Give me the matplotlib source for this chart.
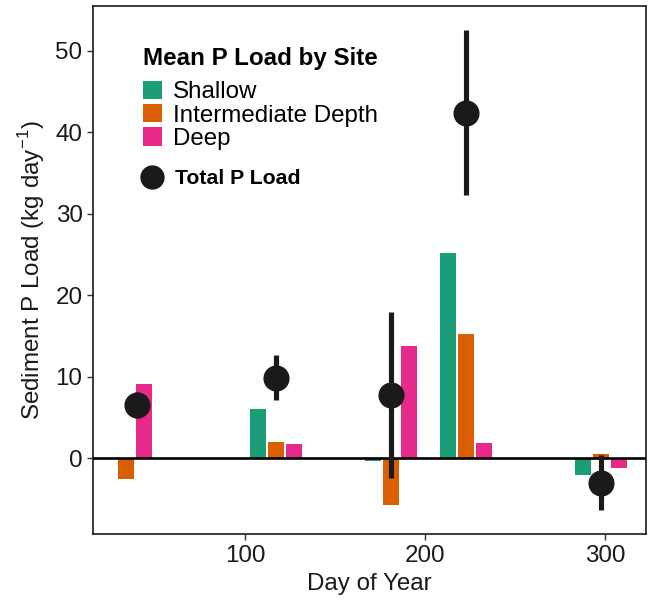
import matplotlib
matplotlib.use("Agg")
import matplotlib.pyplot as plt
from matplotlib.patches import Patch
from matplotlib.lines import Line2D
import numpy as np

plt.rcParams["font.family"] = ["Liberation Sans", "DejaVu Sans"]
plt.rcParams["mathtext.fontset"] = "custom"
plt.rcParams["mathtext.rm"] = "Liberation Sans"

# Sampling days and mean site loads (kg/day)
bar_days = [34, 117, 181, 223, 298]
shallow = [0.0, 6.1, -0.3, 25.2, -2.1]
intermediate = [-2.5, 2.0, -5.7, 15.3, 0.5]
deep = [9.1, 1.8, 13.8, 1.9, -1.2]

# Total load with its uncertainty
total_days = [40, 117, 181, 223, 298]
total_load = [6.5, 9.9, 7.8, 42.4, -3.0]
total_err = [1.6, 2.8, 10.2, 10.1, 3.4]

site_names = ["Shallow", "Intermediate Depth", "Deep"]
site_colors = ["#1B9E77", "#D95F02", "#E7298A"]
xticks = [100, 200, 300]
yticks = [0, 10, 20, 30, 40, 50]

W, H, DPI = 648, 607, 100
fig = plt.figure(figsize=(W / DPI, H / DPI), dpi=DPI)
ax = fig.add_axes([93.3 / W, 1 - 534.3 / H, (646 - 93.3) / W, (534.3 - 6) / H])

fs = 17.4
dark = "#333333"

offset = 10.0
width = 8.8
days = np.array(bar_days, dtype=float)
for vals, off, col in zip([shallow, intermediate, deep], [-offset, 0, offset], site_colors):
    ax.bar(days + off, vals, width=width, color=col, edgecolor="none", zorder=2)

ax.axhline(0, color="black", lw=1.9, zorder=3)

ax.errorbar(total_days, total_load, yerr=total_err, fmt="o", color="#1a1a1a",
            markersize=17.8, elinewidth=3.7, capsize=0, zorder=4)

ax.set_xlim(15.7, 322.8)
ax.set_ylim(-9.33, 55.5)
ax.set_xticks(xticks)
ax.set_yticks(yticks)
ax.tick_params(axis="both", direction="out", length=4.3, width=1.0, color=dark,
               labelsize=fs, labelcolor="#1a1a1a", pad=3.5)
for sp in ax.spines.values():
    sp.set_color("#1a1a1a")
    sp.set_linewidth(1.2)

ax.set_xlabel("Day of Year", fontsize=fs, color="#1a1a1a", labelpad=4)
ax.set_ylabel("Sediment P Load (kg day$^{-1}$)", fontsize=fs, color="#1a1a1a", labelpad=6)

# Legend for the site bars
site_handles = [Patch(facecolor=c, edgecolor="none") for c in site_colors]
leg1 = ax.legend(site_handles, site_names, loc="upper left",
                 bbox_to_anchor=(143 / W, 1 - 47 / H), bbox_transform=fig.transFigure,
                 frameon=False, fontsize=fs, title="Mean P Load by Site",
                 title_fontproperties={"weight": "bold", "size": fs},
                 alignment="left", borderpad=0, borderaxespad=0,
                 handlelength=0.8, handleheight=0.8, handletextpad=0.45,
                 labelspacing=0.021)
# extra room between the legend title and its entries
leg1._legend_box.sep = 7.8
ax.add_artist(leg1)

# Legend for the total load points
tot_handle = Line2D([], [], marker="o", linestyle="none", color="#1a1a1a", markersize=16.5)
leg2 = ax.legend([tot_handle], ["Total P Load"], loc="upper left",
                 bbox_to_anchor=(139 / W, 1 - 169 / H), bbox_transform=fig.transFigure,
                 frameon=False, prop={"weight": "bold", "size": 15.3},
                 borderpad=0, borderaxespad=0, handlelength=1.2, handletextpad=0.5)

fig.savefig("out.png", dpi=DPI)
